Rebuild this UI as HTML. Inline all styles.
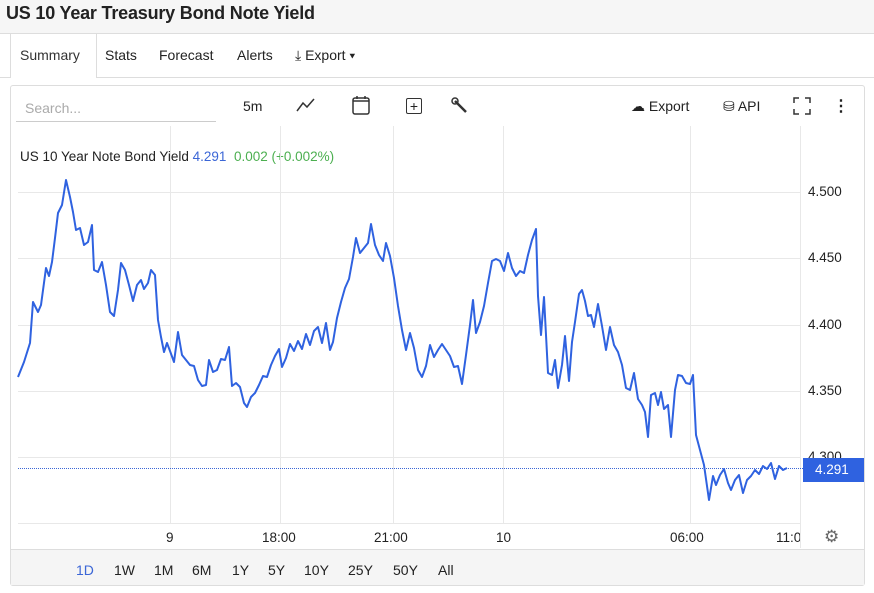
<!DOCTYPE html>
<html><head><meta charset="utf-8"><style>
body{margin:0;width:874px;height:593px;background:#fff;font-family:"Liberation Sans",Arial,sans-serif;position:relative;overflow:hidden;color:#222}
.t{position:absolute;white-space:nowrap}
</style></head><body>
<div style="position:absolute;left:0;top:0;width:874px;height:33px;background:#f6f6f6;border-bottom:1px solid #ddd"></div>
<div class="t" style="left:6px;top:3px;font-size:18px;font-weight:bold;color:#222;letter-spacing:-0.2px">US 10 Year Treasury Bond Note Yield</div>
<div style="position:absolute;left:0;top:77px;width:874px;height:1px;background:#ddd"></div>
<div style="position:absolute;left:10px;top:34px;width:85px;height:44px;background:#fff;border-left:1px solid #ddd;border-right:1px solid #ddd"></div>
<div class="t" style="left:20px;top:47px;font-size:14px;color:#333">Summary</div>
<div class="t" style="left:105px;top:47px;font-size:14px">Stats</div>
<div class="t" style="left:159px;top:47px;font-size:14px">Forecast</div>
<div class="t" style="left:237px;top:47px;font-size:14px">Alerts</div>
<div class="t" style="left:295px;top:47px;font-size:14px">⤓ Export ▾</div>
<div style="position:absolute;left:10px;top:85px;width:853px;height:499px;border:1px solid #ddd;border-radius:3px"></div>
<div style="position:absolute;left:11px;top:549px;width:853px;height:35px;background:#f5f5f5;border-top:1px solid #ddd"></div>
<div class="t" style="left:25px;top:100px;font-size:14px;color:#aaa">Search...</div>
<div style="position:absolute;left:16px;top:121px;width:200px;height:1px;background:#ccc"></div>
<div class="t" style="left:243px;top:98px;font-size:14px">5m</div>
<svg style="position:absolute;left:296px;top:98px" width="20" height="14"><polyline points="1,13 7,5 11,9 18,1" fill="none" stroke="#333" stroke-width="1.5"/></svg>
<svg style="position:absolute;left:352px;top:95px" width="18" height="20"><rect x="1" y="3" width="16" height="16" rx="2" fill="none" stroke="#333" stroke-width="1.5"/><line x1="1" y1="6" x2="17" y2="6" stroke="#333" stroke-width="1.5"/><line x1="5" y1="1" x2="5" y2="4" stroke="#333" stroke-width="1.5"/><line x1="13" y1="1" x2="13" y2="4" stroke="#333" stroke-width="1.5"/></svg>
<div style="position:absolute;left:406px;top:98px;width:14px;height:14px;border:1.5px solid #333;border-radius:2px;font-size:14px;line-height:14px;text-align:center">+</div>
<svg style="position:absolute;left:451px;top:97px" width="18" height="18"><line x1="4" y1="4" x2="15" y2="15" stroke="#333" stroke-width="2.5"/><circle cx="4" cy="4" r="3" fill="none" stroke="#333" stroke-width="1.5"/></svg>
<div class="t" style="left:631px;top:98px;font-size:14px">☁ Export</div>
<div class="t" style="left:723px;top:98px;font-size:14px">⛁ API</div>
<svg style="position:absolute;left:793px;top:97px" width="18" height="18"><g stroke="#333" stroke-width="1.5" fill="none"><polyline points="1,6 1,1 6,1"/><polyline points="12,1 17,1 17,6"/><polyline points="1,12 1,17 6,17"/><polyline points="12,17 17,17 17,12"/></g></svg>
<div class="t" style="left:833px;top:96px;font-size:16px;font-weight:bold">⋮</div>
<div class="t" style="left:20px;top:149px;font-size:13.5px">US 10 Year Note Bond Yield <span style="color:#3b66d6">4.291</span>&nbsp; <span style="color:#4caf50">0.002 (+0.002%)</span></div>
<svg style="position:absolute;left:0;top:0" width="874" height="593">
<g stroke="#e8e8e8" stroke-width="1">
<line x1="170.5" y1="126" x2="170.5" y2="523"/><line x1="280.5" y1="126" x2="280.5" y2="523"/><line x1="393.5" y1="126" x2="393.5" y2="523"/><line x1="503.5" y1="126" x2="503.5" y2="523"/><line x1="690.5" y1="126" x2="690.5" y2="523"/><line x1="800.5" y1="126" x2="800.5" y2="548"/>
<line x1="18" y1="192.5" x2="800" y2="192.5"/><line x1="18" y1="258.5" x2="800" y2="258.5"/><line x1="18" y1="325.5" x2="800" y2="325.5"/><line x1="18" y1="391.5" x2="800" y2="391.5"/><line x1="18" y1="457.5" x2="800" y2="457.5"/><line x1="18" y1="523.5" x2="800" y2="523.5"/>
</g>
<line x1="18" y1="468.5" x2="803" y2="468.5" stroke="#3b66d6" stroke-width="1" stroke-dasharray="1,1"/>
<polyline fill="none" stroke="#2f62e0" stroke-width="2" stroke-linejoin="round" points="18,377 24,362 30,343 33,302 38,312 41,305 46,268 49,276 52,262 55,238 58,213 62,205 66,180 70,197 73,212 76,230 80,228 84,245 88,242 92,225 94,270 98,272 102,262 106,285 110,312 114,316 118,290 121,263 125,270 129,285 133,301 137,285 141,280 144,289 148,283 151,270 155,275 158,320 161,337 164,352 167,343 170,351 174,362 178,332 182,355 186,360 190,365 194,366 198,380 202,386 206,385 209,360 213,372 217,370 221,359 225,360 229,347 232,386 236,383 240,387 244,403 247,407 251,397 255,393 259,385 263,376 267,377 271,365 275,356 279,349 282,367 286,358 290,344 294,351 298,341 302,349 306,334 310,345 314,331 318,327 322,343 326,323 330,350 333,342 337,318 341,302 345,288 349,279 353,257 356,238 360,253 364,248 368,243 371,224 375,245 379,255 383,261 386,243 390,256 394,278 398,306 402,330 406,350 410,333 414,348 418,370 422,377 426,366 430,345 434,357 438,350 442,344 446,350 450,356 454,367 458,366 462,384 466,355 470,325 473,300 476,333 480,322 484,306 488,283 492,261 496,259 500,261 504,271 508,253 512,268 516,276 520,271 524,273 528,255 532,240 536,229 538,296 541,335 544,297 548,373 552,375 555,360 558,388 562,365 565,336 569,381 572,342 575,322 579,294 582,290 585,301 588,316 591,315 594,327 598,304 602,326 606,350 610,327 614,345 618,352 622,365 626,388 630,390 634,373 638,399 642,405 645,412 648,437 651,395 655,393 658,405 661,392 664,409 668,405 671,437 675,390 678,375 682,376 686,383 690,384 693,375 696,435 700,450 704,465 709,500 713,476 716,485 720,475 724,469 728,483 731,490 735,480 739,475 743,493 747,480 751,476 755,470 759,474 763,466 767,469 771,463 775,479 779,466 783,470 787,468"/>
</svg>
<div class="t" style="left:808px;top:184px;font-size:13.5px">4.500</div>
<div class="t" style="left:808px;top:250px;font-size:13.5px">4.450</div>
<div class="t" style="left:808px;top:317px;font-size:13.5px">4.400</div>
<div class="t" style="left:808px;top:383px;font-size:13.5px">4.350</div>
<div class="t" style="left:808px;top:449px;font-size:13.5px">4.300</div>
<div style="position:absolute;left:803px;top:458px;width:61px;height:24px;background:#2f62e0;color:#fff;font-size:13.5px;line-height:24px;text-indent:12px">4.291</div>
<div class="t" style="left:166px;top:530px;font-size:13.5px">9</div>
<div class="t" style="left:262px;top:530px;font-size:13.5px">18:00</div>
<div class="t" style="left:374px;top:530px;font-size:13.5px">21:00</div>
<div class="t" style="left:496px;top:530px;font-size:13.5px">10</div>
<div class="t" style="left:670px;top:530px;font-size:13.5px">06:00</div>
<div style="position:absolute;left:776px;top:530px;width:24px;overflow:hidden;font-size:13.5px">11:00</div>
<div class="t" style="left:824px;top:527px;font-size:17px;color:#666">⚙</div>
<div class="t" style="left:76px;top:562px;font-size:14px;color:#3b66d6">1D</div>
<div class="t" style="left:114px;top:562px;font-size:14px">1W</div>
<div class="t" style="left:154px;top:562px;font-size:14px">1M</div>
<div class="t" style="left:192px;top:562px;font-size:14px">6M</div>
<div class="t" style="left:232px;top:562px;font-size:14px">1Y</div>
<div class="t" style="left:268px;top:562px;font-size:14px">5Y</div>
<div class="t" style="left:304px;top:562px;font-size:14px">10Y</div>
<div class="t" style="left:348px;top:562px;font-size:14px">25Y</div>
<div class="t" style="left:393px;top:562px;font-size:14px">50Y</div>
<div class="t" style="left:438px;top:562px;font-size:14px">All</div>
</body></html>
